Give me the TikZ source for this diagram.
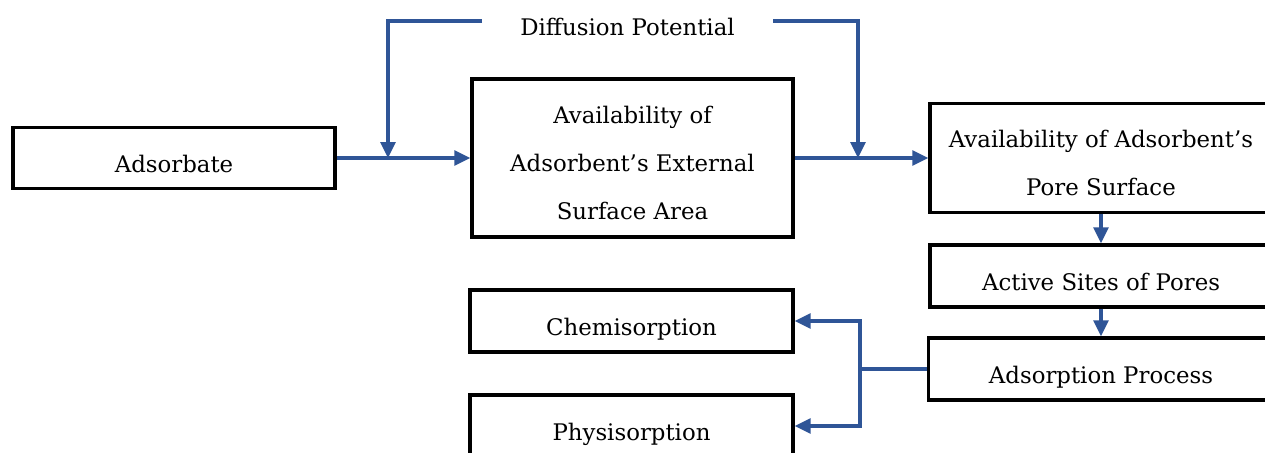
\documentclass[tikz,border=0pt]{standalone}
\usepackage{fontspec}
\setmainfont{DejaVu Serif}
\usetikzlibrary{arrows.meta}
\definecolor{B}{RGB}{47, 85, 151}
\newcommand{\bajar}{\rule{0pt}{18.5pt}}

\begin{document}
\begin{tikzpicture}[x=0.02cm, y=-0.02cm,
    caja/.style={draw=black, line width=2pt, align=center, inner sep=0pt,
                 font=\fontsize{13}{27.3}\selectfont,
                 execute at begin node={\rule[-3pt]{0pt}{22.4pt}},
                 execute at end node={\rule[-3pt]{0pt}{3pt}}},
    linea/.style={draw=B, line width=1.8pt},
    flecha/.style={linea, -{Triangle[length=0.32cm, width=0.3cm]}}]
   	\useasboundingbox (0,0) rectangle (1265,453);

	%Cajas de la izquierda
   	\node[caja, minimum width=6.44cm, minimum height=1.22cm] (ads) at (174,158) {Adsorbate};
   	\node[caja, minimum width=6.42cm, minimum height=3.16cm] (ext) at (632.5,158)
   		{\bajar Availability of\\Adsorbent's External\\Surface Area};

	%Cajas de la derecha
   	\node[caja, minimum width=6.84cm, minimum height=2.18cm] (pore) at (1101,158)
   		{\bajar Availability of Adsorbent's\\Pore Surface};
   	\node[caja, minimum width=6.84cm, minimum height=1.24cm] (act) at (1101,276) {Active Sites of Pores};
   	\node[caja, minimum width=6.9cm, minimum height=1.24cm] (proc) at (1101,369) {Adsorption Process};

	%Tipos de adsorcion
   	\node[caja, minimum width=6.46cm, minimum height=1.24cm] (chem) at (631.5,321) {Chemisorption};
   	\node[caja, minimum width=6.46cm, minimum height=1.24cm] (phys) at (631.5,426) {Physisorption};

	%Potencial de difusion
   	\node[font=\fontsize{13}{15}\selectfont] (diff) at (627.5,27) {Diffusion Potential};
   	\coordinate (dl) at (482,21);
   	\coordinate (dr) at (773,21);
   	\coordinate (jl) at (388,158);
   	\coordinate (jr) at (858,158);
   	\coordinate (split) at (860,369);

	%Flechas
   	\draw[flecha] (ads.east) -- (ext.west);
   	\draw[flecha] (ext.east) -- (pore.west);
   	\draw[flecha] (dl) -| (jl);
   	\draw[flecha] (dr) -| (jr);
   	\draw[flecha] (pore.south) -- (act.north);
   	\draw[flecha] (act.south) -- (proc.north);
   	\draw[linea] (proc.west) -- (split);
   	\draw[flecha] (split) |- (chem.east);
   	\draw[flecha] (split) |- (phys.east);
\end{tikzpicture}
\end{document}
